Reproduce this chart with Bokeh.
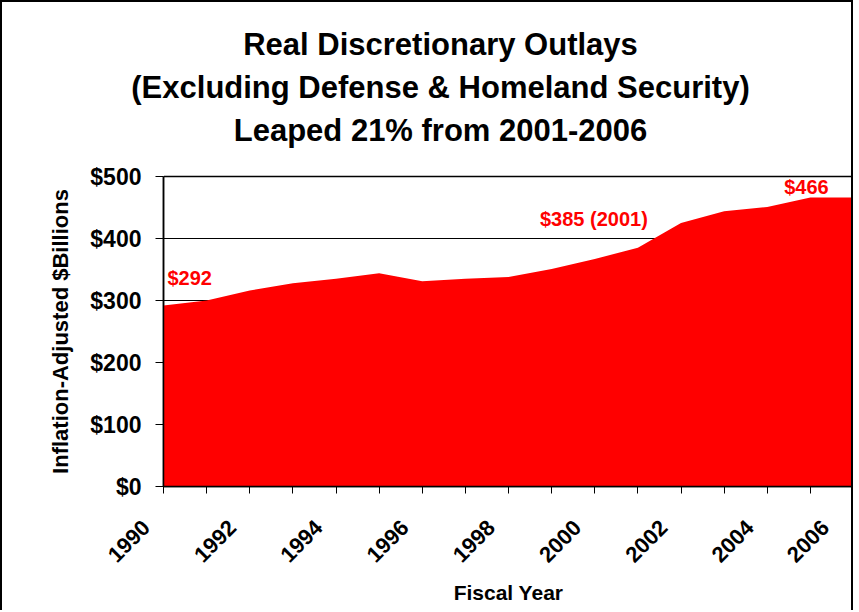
import math
from bokeh.plotting import figure
from bokeh.models import Label, FixedTicker, Range1d, Title, LinearAxis
from bokeh.embed import file_html
from bokeh.resources import INLINE

# ---- data ----
years = list(range(1990, 2007))
outlays = [292, 300, 316, 328, 335, 344, 331, 335, 338, 351, 367, 385, 425, 444, 451, 466, 466]
y_ticks = [0, 100, 200, 300, 400, 500]
y_tick_labels = ["$0", "$100", "$200", "$300", "$400", "$500"]
x_label_years = [1990, 1992, 1994, 1996, 1998, 2000, 2002, 2004, 2006]
title_lines = [
    "Real Discretionary Outlays",
    "(Excluding Defense & Homeland Security)",
    "Leaped 21% from 2001-2006",
]
# (index into years, text)
callouts = [(0, "$292"), (11, "$385 (2001)"), (15, "$466")]

FONT = "Liberation Sans"
W, H = 853, 610
FRAME_L, FRAME_R = 161, 2
TITLE_PX = 31

# Arial/Liberation Sans Bold advance widths (per 1000 em) for title centering
AW = {" ": 278, "(": 333, ")": 333, "&": 722, "%": 889, "-": 333,
      "R": 722, "D": 722, "O": 778, "E": 667, "H": 722, "S": 667, "L": 611,
      "a": 556, "c": 556, "d": 611, "e": 556, "f": 333, "g": 611, "i": 278,
      "l": 278, "m": 889, "n": 611, "o": 611, "p": 611, "r": 389, "s": 556,
      "t": 333, "u": 611, "x": 556, "y": 556}
for ch in "0123456789":
    AW[ch] = 556


def text_width(s, px):
    return sum(AW.get(c, 556) for c in s) * px / 1000.0


p = figure(
    width=W, height=H, output_backend="svg", toolbar_location=None,
    x_range=Range1d(years[0], years[-1]), y_range=Range1d(y_ticks[0], y_ticks[-1]),
    min_border_left=FRAME_L, min_border_right=FRAME_R, min_border_top=174, min_border_bottom=126,
    background_fill_color="white", border_fill_color="white",
    styles={"border-left": "2px solid black", "border-top": "2px solid black",
            "border-right": "2px solid black"},
)

p.varea(x=years, y1=[0] * len(years), y2=outlays, fill_color="#FF0000", fill_alpha=1.0)

# outline / frame
p.outline_line_color = "black"
p.outline_line_width = 1.5

# grid
p.xgrid.grid_line_color = None
p.ygrid.ticker = FixedTicker(ticks=y_ticks)
p.ygrid.grid_line_color = "black"
p.ygrid.grid_line_width = 1

# y axis
ya = p.yaxis[0]
ya.ticker = FixedTicker(ticks=y_ticks)
ya.major_label_overrides = {t: l for t, l in zip(y_ticks, y_tick_labels)}
ya.major_label_text_font = FONT
ya.major_label_text_font_style = "bold"
ya.major_label_text_font_size = "23px"
ya.major_label_text_color = "black"
ya.major_tick_out = 8
ya.major_tick_in = 0
ya.minor_tick_out = 0
ya.minor_tick_in = 0
ya.major_label_standoff = 14
ya.axis_line_color = "black"
ya.axis_line_width = 1.5
ya.major_tick_line_color = "black"
ya.axis_label = "Inflation-Adjusted $Billions"
ya.axis_label_text_font = FONT
ya.axis_label_text_font_style = "bold"
ya.axis_label_text_font_size = "22px"
ya.axis_label_text_color = "black"
ya.axis_label_standoff = 14

# x axis: a tick every year, a rotated label every other year
NB = "\u00a0" * 4  # trailing no-break spaces nudge the rotated labels left of their tick
xa = p.xaxis[0]
xa.ticker = FixedTicker(ticks=years)
xa.major_label_overrides = {y: (str(y) + NB if y in x_label_years else "") for y in years}
xa.major_label_orientation = math.pi / 4
xa.major_label_text_font = FONT
xa.major_label_text_font_style = "bold"
xa.major_label_text_font_size = "22px"
xa.major_label_text_color = "black"
xa.major_label_standoff = 13
xa.major_tick_out = 7
xa.major_tick_in = 0
xa.minor_tick_out = 0
xa.minor_tick_in = 0
xa.axis_line_color = "black"
xa.axis_line_width = 1.5
xa.major_tick_line_color = "black"
xa.axis_label = "Fiscal Year"
xa.axis_label_text_font = FONT
xa.axis_label_text_font_style = "bold"
xa.axis_label_text_font_size = "21px"
xa.axis_label_text_color = "black"
xa.axis_label_standoff = 2

# spacer between the plot top and the title block (blank axis with one white tick)
spacer = LinearAxis(ticker=FixedTicker(ticks=[years[0]]), axis_line_color=None,
                    major_tick_line_color="white", minor_tick_line_color=None,
                    major_tick_out=26, major_tick_in=0, minor_tick_out=0, minor_tick_in=0,
                    major_label_standoff=0, major_label_overrides={years[0]: ""})
p.add_layout(spacer, "above")

# title lines (nearest-to-plot first), centred 277 px right of the plot's left edge
title_center = 277
for line in reversed(title_lines):
    off = title_center - text_width(line, TITLE_PX) / 2
    p.add_layout(Title(
        text=line, align="left", offset=off,
        text_font=FONT, text_font_style="bold", text_font_size=f"{TITLE_PX}px",
        text_color="black", standoff=6,
    ), "above")

# callouts
offsets = {0: (4, 27, "left"), 11: (-44, 29, "center"), 15: (-4, 11, "center")}
for idx, txt in callouts:
    dx, dy, align = offsets[idx]
    p.add_layout(Label(
        x=years[idx], y=outlays[idx], x_offset=dx, y_offset=dy,
        text=txt, text_align=align, text_baseline="middle",
        text_font=FONT, text_font_style="bold", text_font_size="20px",
        text_color="#FF0000",
    ))

open("out.html", "w").write(file_html(p, INLINE))
